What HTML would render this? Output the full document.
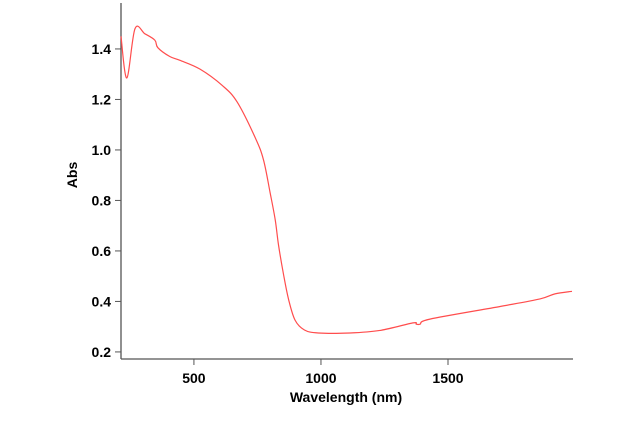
<!DOCTYPE html>
<html><head><meta charset="utf-8"><style>
body{margin:0;background:#fff}
svg{display:block}
text{font-family:"Liberation Sans",Arial,sans-serif;font-weight:bold;font-size:14px;fill:#000}
</style></head><body>
<svg id="c" width="620" height="431">
<g id="axes"></g>
<path id="line" fill="none" stroke="#ff4d4d" stroke-width="1.2"></path>
<text x="346" y="402" text-anchor="middle">Wavelength (nm)</text>
<text transform="translate(77,175) rotate(-90)" text-anchor="middle">Abs</text>
</svg>
<script>
const wavelengths=[213,236,268,307,346,358,405,445,524,612,670,742,774,800,820,833,853,873,898,935,990,1114,1232,1362,1375,1390,1429,1705,1862,1921,1988];
const absorbance=[1.45,1.285,1.48,1.46,1.435,1.405,1.37,1.355,1.32,1.255,1.19,1.047,0.96,0.83,0.723,0.623,0.505,0.406,0.326,0.287,0.275,0.275,0.285,0.315,0.31,0.31,0.33,0.38,0.41,0.43,0.44];
const xTicks=[500,1000,1500];
const yTicks=[0.2,0.4,0.6,0.8,1.0,1.2,1.4];
const xDomain=[213,1988], yDomain=[0.172,1.58];
const X=v=>121+(v-xDomain[0])/(xDomain[1]-xDomain[0])*451;
const Y=v=>359-(v-yDomain[0])/(yDomain[1]-yDomain[0])*355.5;
const ns="http://www.w3.org/2000/svg";
const g=document.getElementById('axes');
function el(t,a){const e=document.createElementNS(ns,t);for(const k in a)e.setAttribute(k,a[k]);g.appendChild(e);return e;}
const xa=el('line',{x1:121,y1:359,x2:573,y2:359,stroke:'#555','stroke-width':1.3});


const ya=el('line',{x1:121,y1:3,x2:121,y2:359,stroke:'#555','stroke-width':1.3});


xTicks.forEach(v=>{
 const t=el('line',{x1:X(v),y1:359,x2:X(v),y2:365,stroke:'#555'});
 
 
 const l=el('text',{x:X(v),y:383,'text-anchor':'middle'});l.textContent=v;
 
 
});
yTicks.forEach(v=>{
 const t=el('line',{x1:115,y1:Y(v),x2:121,y2:Y(v),stroke:'#555'});
 
 
 const l=el('text',{x:111,y:Y(v)+5,'text-anchor':'end'});l.textContent=v.toFixed(1);
 
 
});
const P=wavelengths.map((w,i)=>[X(w),Y(absorbance[i])]);
let d='M'+P[0][0]+','+P[0][1];
for(let i=0;i<P.length-1;i++){
 const p0=P[i-1]||P[i],p1=P[i],p2=P[i+1],p3=P[i+2]||P[i+1];
 const c1=[p1[0]+(p2[0]-p0[0])/6,p1[1]+(p2[1]-p0[1])/6];
 const c2=[p2[0]-(p3[0]-p1[0])/6,p2[1]-(p3[1]-p1[1])/6];
 d+=' C'+c1+' '+c2+' '+p2;
}
document.getElementById('line').setAttribute('d',d);
</script>
</body></html>
